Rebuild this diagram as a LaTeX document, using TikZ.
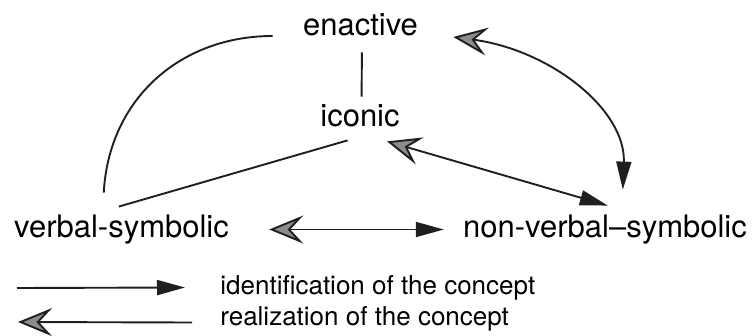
\documentclass[tikz,border=0pt]{standalone}
\usepackage{fontspec}
\setmainfont{TeX Gyre Heros}
\usetikzlibrary{arrows.meta}

\tikzset{
  mode/.style={inner sep=0pt, text height=11pt, text depth=3.5pt,
    font=\fontsize{15.5pt}{18pt}\selectfont, anchor=base},
  legend/.style={inner sep=0pt, text height=9.5pt, text depth=3pt,
    font=\fontsize{13pt}{16pt}\selectfont, anchor=base west},
  link/.style={line width=0.95pt, draw=black!88},
  ident/.style={link, -{Triangle[length=14pt,width=7.5pt]}},
  real/.style={link, {Stealth[length=17pt,width=14pt,inset=6.5pt,fill=black!45]}-},
  both/.style={link, {Stealth[length=17pt,width=14pt,inset=6.5pt,fill=black!45]}-{Triangle[length=14pt,width=7.5pt]}},
}

\begin{document}
\begin{tikzpicture}[x=0.5pt, y=-0.5pt]
    \useasboundingbox (0, 0) rectangle (754, 336);
    % the four modes
    \node[mode] (enactive) at (360.5, 36){enactive};
    \node[mode] (iconic) at (360, 127){iconic};
    \node[mode] (verbal) at (121.5, 237){verbal-symbolic};
    \node[mode] (nonverbal) at (605, 237){non-verbal–symbolic};
        \draw[link, shorten <=4.5pt, shorten >=4pt] ([xshift=.75pt]enactive.south) to ([xshift=.75pt]iconic.north);
        \draw[link] ([xshift=45pt, yshift=11pt]verbal.north west)
            .. controls +(5, -93) and +(-93, 0) .. ([xshift=-15pt]enactive.base west);
        \draw[link] ([xshift=52.5pt, yshift=4pt]verbal.north west) to ([xshift=-6.25pt, yshift=-3pt]iconic.south);
        \draw[both] ([xshift=17.5pt, yshift=-.5pt]enactive.base east)
            .. controls +(97, 13) and +(3, -80) .. ([xshift=80pt, yshift=12.5pt]nonverbal.north west);
        \draw[both] ([xshift=-6.5pt, yshift=-3.5pt]iconic.south east) to ([xshift=72.5pt, yshift=4.5pt]nonverbal.north west);
        \draw[both] ([xshift=20pt]verbal.east) to ([xshift=-9.5pt]nonverbal.west);
    % legend
    \node[legend] (identtext) at (220, 294){identification of the concept};
    \node[legend] (realtext) at (220, 325){realization of the concept};
    \coordinate (identstart) at (17, 288);
    \coordinate (realend) at (18, 322);
        \draw[ident] (identstart) to ([xshift=-17.5pt]identtext.west);
        \draw[real] (realend) to ([xshift=-14pt, yshift=-2pt]realtext.west);
\end{tikzpicture}
\end{document}
